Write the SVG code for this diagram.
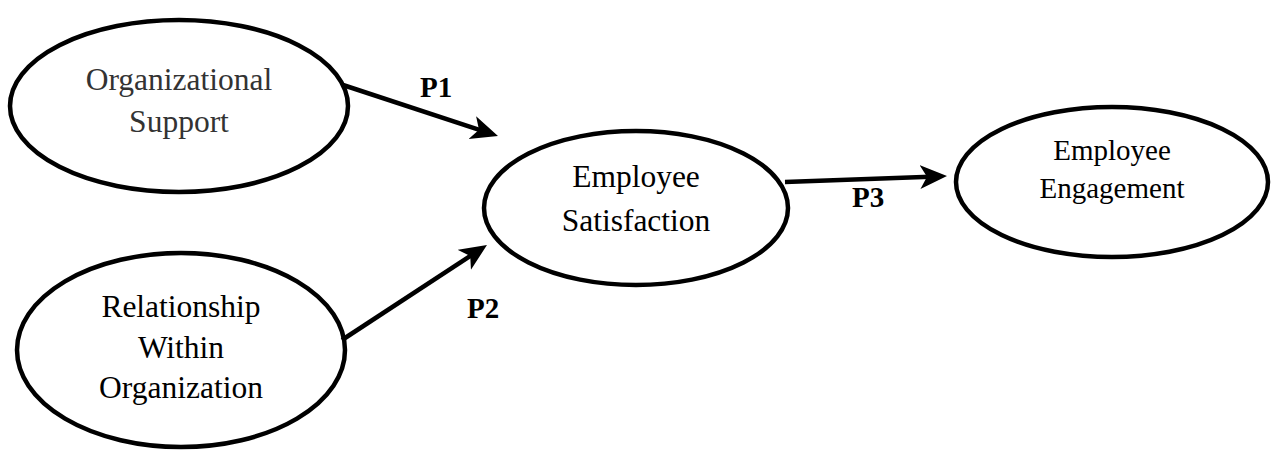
<svg xmlns="http://www.w3.org/2000/svg" width="1272" height="450" viewBox="0 0 1272 450">
<style>
.node ellipse{fill:#fff;stroke:#000;stroke-width:4.5}
.lbl{font-family:"Liberation Serif","Times New Roman",serif;font-size:31.5px;fill:#000;text-anchor:middle}
.gray{fill:#333}
.conn path{fill:none;stroke:#000;stroke-width:4.5}
.plabel{font-family:"Liberation Serif","Times New Roman",serif;font-size:29px;font-weight:bold;fill:#000}
</style>
<defs>
<marker id="arr" markerUnits="userSpaceOnUse" viewBox="0 0 28 26" markerWidth="28" markerHeight="26" refX="17" refY="13" orient="auto">
<path d="M0,1 L27,13 L0,25 L7,13 Z" fill="#000"/>
</marker>
</defs>
<rect width="1272" height="450" fill="#fff"/>
<g id="node-org-support" class="node">
<ellipse cx="179" cy="106" rx="169" ry="86"/>
<text class="lbl gray" x="179" y="90">Organizational</text>
<text class="lbl gray" x="179" y="132">Support</text>
</g>
<g id="node-relationship" class="node">
<ellipse cx="181" cy="350" rx="164" ry="97"/>
<text class="lbl" x="181" y="317">Relationship</text>
<text class="lbl" x="181" y="358">Within</text>
<text class="lbl" x="181" y="398">Organization</text>
</g>
<g id="node-satisfaction" class="node">
<ellipse cx="636" cy="208" rx="152" ry="77"/>
<text class="lbl" x="636" y="187">Employee</text>
<text class="lbl" x="636" y="231">Satisfaction</text>
</g>
<g id="node-engagement" class="node">
<ellipse cx="1112" cy="182" rx="156" ry="75"/>
<text class="lbl" x="1112" y="160" style="font-size:29px">Employee</text>
<text class="lbl" x="1112" y="198" style="font-size:29px">Engagement</text>
</g>
<g id="connectors" class="conn">
<path d="M343,85 L488.5,132.9" marker-end="url(#arr)"/>
<path d="M342,340 L478.6,250.5" marker-end="url(#arr)"/>
<path d="M785,182 L937,176.4" marker-end="url(#arr)"/>
<text class="plabel" x="420" y="97">P1</text>
<text class="plabel" x="467" y="318">P2</text>
<text class="plabel" x="852" y="207">P3</text>
</g>
</svg>
